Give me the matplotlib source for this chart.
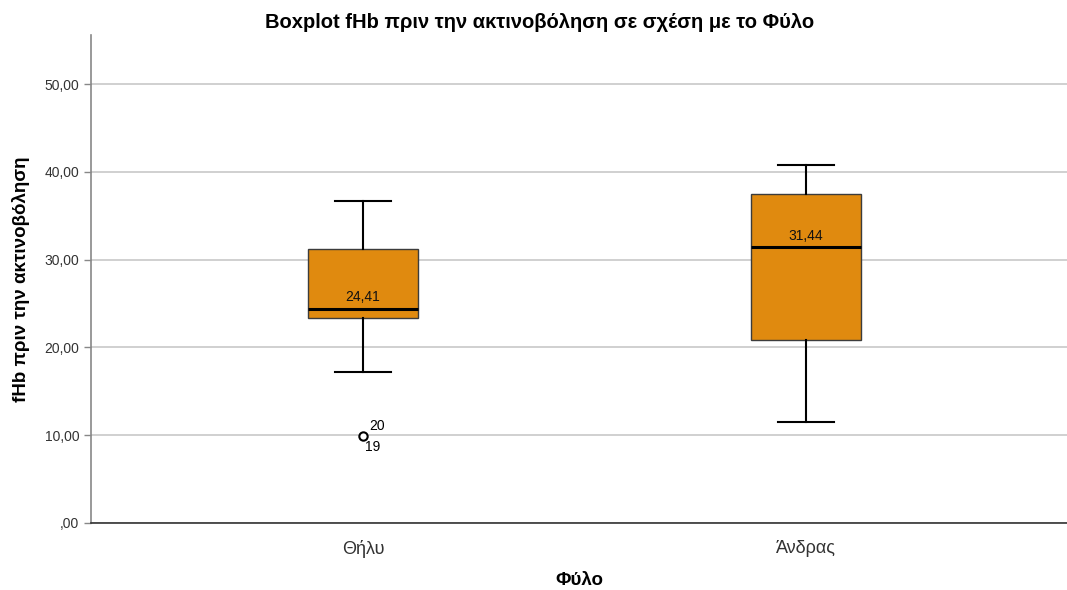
import numpy as np
import matplotlib.pyplot as plt
import matplotlib.ticker as tick

plt.rcParams['font.family'] = ['Liberation Sans', 'DejaVu Sans']

# box statistics per group
groups = ["Θήλυ", "Άνδρας"]
whisker_low = [17.2, 11.5]
q1 = [23.35, 20.84]
medians = [24.41, 31.44]
q3 = [31.2, 37.47]
whisker_high = [36.67, 40.77]
outliers = [[9.9], []]
outlier_ids = [["20", "19"], []]

stats = []
for i in range(len(groups)):
    stats.append({
        "med": medians[i], "q1": q1[i], "q3": q3[i],
        "whislo": whisker_low[i], "whishi": whisker_high[i],
        "fliers": outliers[i], "label": groups[i],
    })

fig = plt.figure(figsize=(10.67, 5.9), dpi=100)
ax = fig.add_axes([0.0853, 0.1136, 0.9147, 0.8271])

ax.yaxis.grid(True, color='#c8c8c8', linewidth=1.2)
ax.set_axisbelow(True)

ax.bxp(stats, positions=[0, 1], widths=0.25, patch_artist=True,
       boxprops=dict(facecolor='#E08A0F', edgecolor='#3c3c3c', linewidth=1.0),
       medianprops=dict(color='black', linewidth=2.2),
       whiskerprops=dict(color='black', linewidth=1.5),
       capprops=dict(color='black', linewidth=1.5),
       capwidths=0.125,
       flierprops=dict(marker='o', markersize=6, markerfacecolor='white',
                       markeredgecolor='black', markeredgewidth=1.5))

for i, m in enumerate(medians):
    ax.text(i, m + 0.5, f"{m:.2f}".replace('.', ','), ha='center', va='bottom',
            fontsize=10, color='#111111')

for i, pts in enumerate(outliers):
    for v in pts:
        ids = outlier_ids[i]
        ax.text(i + 0.013, v + 0.3, ids[0], ha='left', va='bottom', fontsize=10)
        ax.text(i + 0.005, v - 0.4, ids[1], ha='left', va='top', fontsize=10)

ax.set_xlim(-0.614, 1.589)
ax.set_ylim(0, 55.6)
ax.yaxis.set_major_locator(tick.MultipleLocator(10))
ax.yaxis.set_major_formatter(tick.FuncFormatter(
    lambda v, p: ",00" if v == 0 else f"{v:.2f}".replace('.', ',')))
ax.tick_params(axis='y', labelsize=10, colors='#333333', length=5, width=1, color='#888888')
ax.tick_params(axis='x', labelsize=13, colors='#333333', length=0, pad=12)

for s in ['top', 'right']:
    ax.spines[s].set_visible(False)
ax.spines['left'].set_color('#888888')
ax.spines['left'].set_linewidth(1.2)
ax.spines['bottom'].set_color('#333333')
ax.spines['bottom'].set_linewidth(1.2)

fig.text(0.506, 0.962, "Boxplot fHb πριν την ακτινοβόληση σε σχέση με το Φύλο",
         fontsize=14.5, fontweight='bold', ha='center', va='center')
ax.set_xlabel("Φύλο", fontsize=13.5, fontweight='bold', labelpad=10)
ax.set_ylabel("fHb πριν την ακτινοβόληση", fontsize=13.5, fontweight='bold', labelpad=10)

fig.savefig("out.png", dpi=100)
